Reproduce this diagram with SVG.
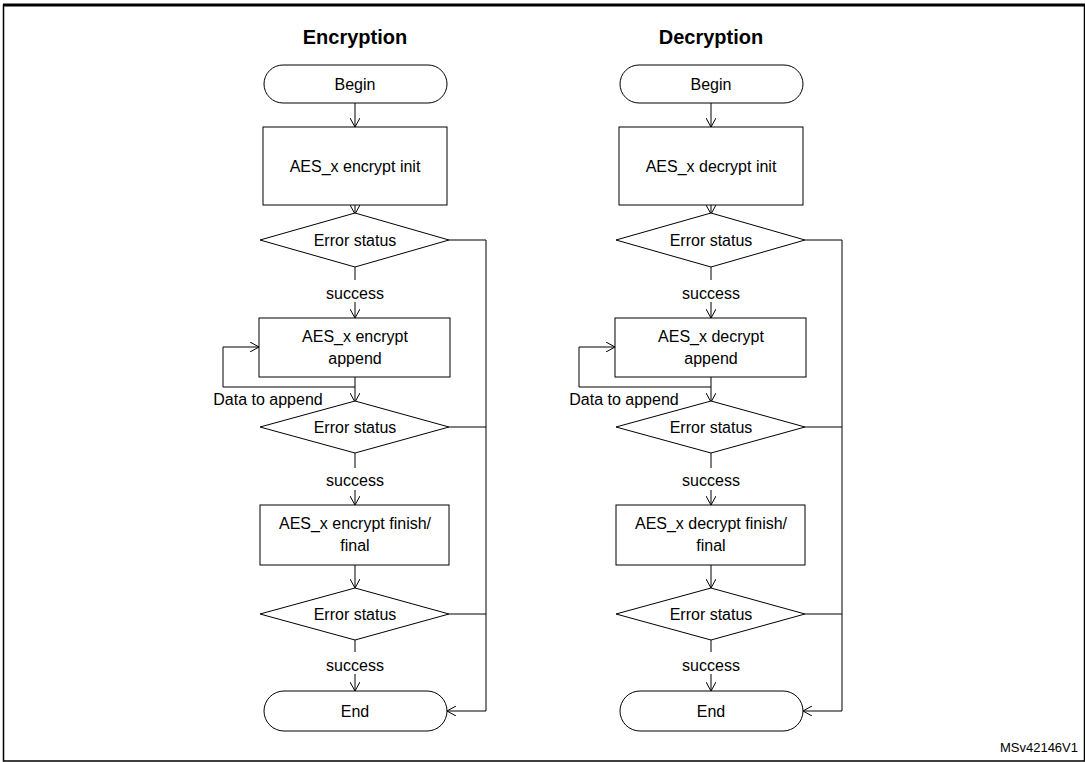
<svg xmlns="http://www.w3.org/2000/svg" width="1085" height="762" viewBox="0 0 1085 762">
<defs>
<marker id="a" markerWidth="12" markerHeight="10" refX="10" refY="5" orient="auto" markerUnits="userSpaceOnUse"><path d="M1,0 L10,5 L1,10" fill="none" stroke="#000" stroke-width="1"/></marker>
<g id="flow">
<g id="connectors" fill="none" stroke="#000" stroke-width="1">
<line x1="355" y1="103" x2="355" y2="127" marker-end="url(#a)"/>
<line x1="355" y1="205" x2="355" y2="214" marker-end="url(#a)"/>
<line x1="355" y1="267" x2="355" y2="280"/>
<line x1="355" y1="302" x2="355" y2="318" marker-end="url(#a)"/>
<line x1="355" y1="377" x2="355" y2="402" marker-end="url(#a)"/>
<polyline points="355,387 223,387 223,347 259,347" marker-end="url(#a)"/>
<line x1="355" y1="453" x2="355" y2="468"/>
<line x1="355" y1="490" x2="355" y2="505" marker-end="url(#a)"/>
<line x1="355" y1="565" x2="355" y2="588" marker-end="url(#a)"/>
<line x1="355" y1="640" x2="355" y2="652"/>
<line x1="355" y1="674" x2="355" y2="691" marker-end="url(#a)"/>
<polyline points="449,240 486,240 486,711 447,711" marker-end="url(#a)"/>
<line x1="449" y1="427" x2="486" y2="427"/>
<line x1="449" y1="614" x2="486" y2="614"/>
</g>
<g class="nodes" fill="#fff" stroke="#000" stroke-width="1">
<rect x="264" y="65" width="183" height="38" rx="19"/>
<rect x="263" y="127" width="184" height="78"/>
<polygon points="260,240 355,213 449,240 355,267"/>
<rect x="259" y="318" width="191" height="59"/>
<polygon points="260,427 355,401 449,427 355,453"/>
<rect x="260" y="505" width="189" height="60"/>
<polygon points="260,614 355,588 449,614 355,640"/>
<rect x="264" y="691" width="183" height="40" rx="20"/>
</g>
<g class="lbl" font-family="Liberation Sans, Arial, sans-serif" font-size="16" text-anchor="middle">
<text x="355" y="90">Begin</text>
<text x="355" y="246">Error status</text>
<text x="355" y="299">success</text>
<text x="355" y="433">Error status</text>
<text x="355" y="486">success</text>
<text x="355" y="620">Error status</text>
<text x="355" y="671">success</text>
<text x="355" y="717">End</text>
<text x="268" y="405" text-anchor="middle">Data to append</text>
</g>
</g>
</defs>
<rect x="0" y="0" width="1085" height="762" fill="#fff"/>
<rect x="3.5" y="5" width="1081" height="756" fill="none" stroke="#000" stroke-width="1.5"/>
<line x1="3" y1="5" x2="1085" y2="5" stroke="#000" stroke-width="3"/>
<g id="encryption">
<use href="#flow"/>
<g font-family="Liberation Sans, Arial, sans-serif" font-size="16" text-anchor="middle">
<text x="355" y="44" font-size="20" font-weight="bold">Encryption</text>
<text x="355" y="172">AES_x encrypt init</text>
<text x="355" y="342">AES_x encrypt</text>
<text x="355" y="364">append</text>
<text x="355" y="529">AES_x encrypt finish/</text>
<text x="355" y="551">final</text>
</g>
</g>
<g id="decryption">
<use href="#flow" transform="translate(356,0)"/>
<g font-family="Liberation Sans, Arial, sans-serif" font-size="16" text-anchor="middle">
<text x="711" y="44" font-size="20" font-weight="bold">Decryption</text>
<text x="711" y="172">AES_x decrypt init</text>
<text x="711" y="342">AES_x decrypt</text>
<text x="711" y="364">append</text>
<text x="711" y="529">AES_x decrypt finish/</text>
<text x="711" y="551">final</text>
</g>
</g>
<text x="1078" y="752" font-family="Liberation Sans, Arial, sans-serif" font-size="13" text-anchor="end">MSv42146V1</text>
</svg>
